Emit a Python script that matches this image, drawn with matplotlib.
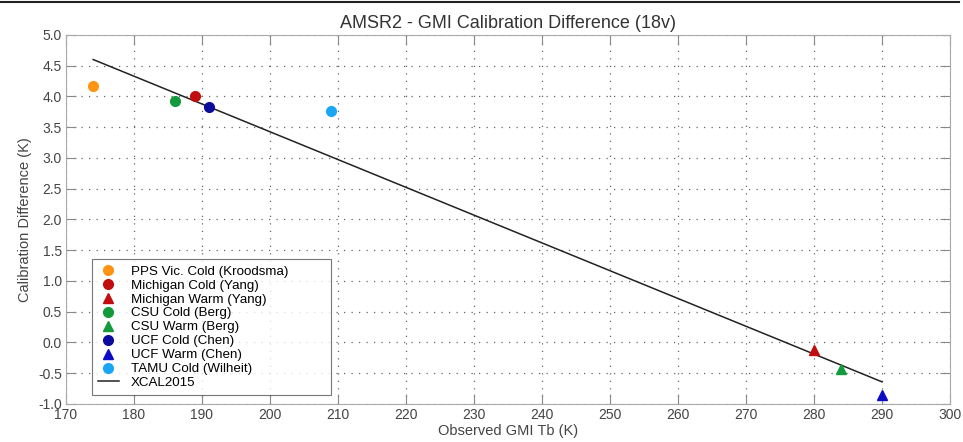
import matplotlib
matplotlib.use("Agg")
import matplotlib.pyplot as plt
from matplotlib.lines import Line2D

plt.rcParams["font.family"] = ["Liberation Sans", "DejaVu Sans"]

# calibration points (observed GMI Tb, difference)
labels = [
    "PPS Vic. Cold (Kroodsma)",
    "Michigan Cold (Yang)",
    "Michigan Warm (Yang)",
    "CSU Cold (Berg)",
    "CSU Warm (Berg)",
    "UCF Cold (Chen)",
    "UCF Warm (Chen)",
    "TAMU Cold (Wilheit)",
]
tb = [174, 189, 280, 186, 284, 191, 290, 209]
diff = [4.17, 4.00, -0.12, 3.92, -0.43, 3.83, -0.85, 3.76]
markers = ["o", "o", "^", "o", "^", "o", "^", "o"]
colors = ["#ff9414", "#c00d0d", "#c00d0d", "#139a3c", "#139a3c",
          "#0c0c9c", "#0c0cc4", "#1aa6f5"]

xcal_tb = [174, 290]
xcal_diff = [4.60, -0.64]

fig = plt.figure(figsize=(9.63, 4.42), dpi=100)
ax = fig.add_axes([0.0685, 0.086, 0.918, 0.835])

for lab, x, y, m, c in zip(labels, tb, diff, markers, colors):
    ax.plot(x, y, linestyle="none", marker=m, color=c, markersize=7, label=lab, zorder=3)
ax.plot(xcal_tb, xcal_diff, color="#222222", lw=1.1, label="XCAL2015", zorder=2)

ax.set_xlim(170, 300)
ax.set_ylim(-1.0, 5.0)
ax.set_xticks(range(170, 301, 10))
ax.set_yticks([v / 2 for v in range(-2, 11)])
ax.yaxis.set_major_formatter(matplotlib.ticker.FormatStrFormatter("%.1f"))
ax.grid(True, linestyle=(0, (1, 5)), color="#666666", lw=0.9)
ax.tick_params(direction="in", length=7, color="#888888", labelcolor="#444444",
               labelsize=10, top=True, right=True, pad=3)
for s in ax.spines.values():
    s.set_color("#aaaaaa")

ax.set_title("AMSR2 - GMI Calibration Difference (18v)", fontsize=13, color="#333333", pad=5)
ax.set_xlabel("Observed GMI Tb (K)", fontsize=10.5, color="#444444", labelpad=1)
ax.set_ylabel("Calibration Difference (K)", fontsize=10.5, color="#444444", labelpad=4)

leg = ax.legend(loc="lower left", bbox_to_anchor=(0.029, 0.024, 0.271, 0.37),
                mode="expand", fontsize=9.6, borderaxespad=0,
                frameon=True, fancybox=False, handlelength=1.6, handletextpad=0.9,
                labelspacing=0.12, borderpad=0.45, numpoints=1)
leg.get_frame().set_edgecolor("#555555")
leg.get_frame().set_linewidth(0.8)

fig.add_artist(Line2D([0.0, 0.996], [0.995, 0.995], color="#222222", lw=1.5,
                      transform=fig.transFigure))

fig.savefig("out.png", dpi=100)
